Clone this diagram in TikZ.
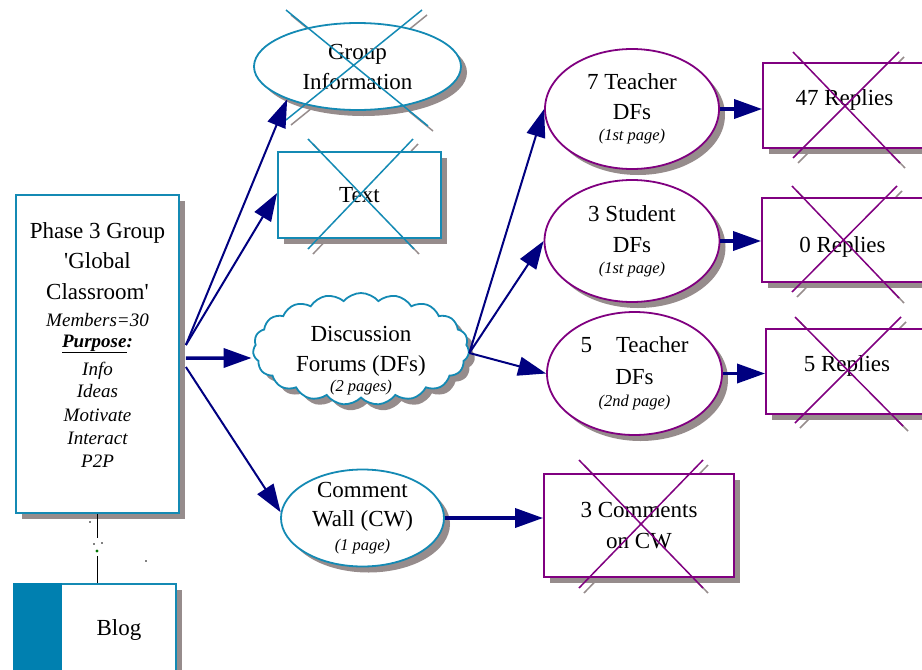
\documentclass[tikz,border=0pt]{standalone}
\usepackage{fontspec}
\setmainfont{Liberation Serif}
\usetikzlibrary{shapes.geometric,shapes.symbols,shadows,arrows.meta,calc}
\definecolor{tealline}{RGB}{20,138,180}
\definecolor{tealfill}{RGB}{0,128,176}
\definecolor{plum}{RGB}{128,0,128}
\definecolor{navyblue}{RGB}{0,0,128}
\definecolor{shadowgrey}{RGB}{150,140,140}
\pgfdeclarelayer{bg}
\pgfsetlayers{bg,main}

% small italic line under a heading
\newcommand\sublabel[1]{{\fontsize{16.5}{20}\selectfont\itshape #1}}
% a struck-out item: two crossing strokes with their grey shadows
\newcommand\crossbox[5]{%
  \begin{pgfonlayer}{bg}
    \draw[shadowgrey,line width=1.5pt]
      ([shift={(5pt,-5pt)}]#2) -- ([shift={(5pt,-5pt)}]#3)
      ([shift={(5pt,-5pt)}]#4) -- ([shift={(5pt,-5pt)}]#5);
  \end{pgfonlayer}
  \draw[#1,line width=1.5pt] (#2) -- (#3) (#4) -- (#5);
}

\begin{document}
\begin{tikzpicture}[x=1pt,y=-1pt,
  every node/.style={font=\fontsize{23}{30}\selectfont, align=center, inner sep=0pt},
  shade/.style={drop shadow={shadow xshift=6pt,shadow yshift=-6pt,fill=shadowgrey,opacity=1}},
  tealbox/.style={rectangle, draw=tealline, line width=1.8pt, fill=white, shade},
  tealell/.style={ellipse, draw=tealline, line width=1.8pt, fill=white, shade, inner ysep=-6pt},
  plumbox/.style={rectangle, draw=plum, line width=1.8pt, fill=white, shade},
  plumell/.style={ellipse, draw=plum, line width=1.8pt, fill=white, shade, inner ysep=-6pt},
  link/.style={navyblue, line width=2pt, -{Triangle[length=28pt,width=19pt]}},
  heavy/.style={link, line width=3.5pt}]
\useasboundingbox (0,0) rectangle (922,670);

% ---- group box and blog ----
\node[tealbox, minimum width=163pt, minimum height=318pt] (phase) at (97.5,354) {};
\node (phasetext) at (97.5,344.7) {Phase 3 Group\\\textquotesingle Global\\[1pt]Classroom\textquotesingle\\[-3pt]%
  {\fontsize{19}{23}\selectfont\itshape Members=30}\\[-9pt]%
  {\fontsize{19}{23}\selectfont\bfseries\itshape\underline{Purpose}:}\\[-2pt]%
  {\fontsize{19}{23}\selectfont\itshape Info}\\[-8pt]%
  {\fontsize{19}{23}\selectfont\itshape Ideas}\\[-6pt]%
  {\fontsize{19}{23}\selectfont\itshape Motivate}\\[-7pt]%
  {\fontsize{19}{23}\selectfont\itshape Interact}\\[-7pt]%
  {\fontsize{19}{23}\selectfont\itshape P2P}};

\node[rectangle, draw=tealline, line width=1.2pt, fill=white, shade,
      minimum width=162pt, minimum height=92pt] (blog) at (95,630) {};
\coordinate (stripe) at (62,0);
\fill[tealfill] (blog.north west) rectangle (blog.south west -| stripe);
\node (blogtext) at (119,630) {Blog};

% ---- first level ----
\node[tealell, minimum width=207pt, minimum height=87pt] (gi) at (357.5,66.5) {Group\\Information};
\node[tealbox, minimum width=163pt, minimum height=86pt] (txt) at (359.5,195) {Text};
\node[cloud, draw=tealline, line width=1.8pt, fill=white, shade, cloud puffs=19,
      cloud puff arc=100, cloud ignores aspect, minimum width=216pt, minimum height=112pt] (df) at (361,349) {};
\node (dftext) at (361,361) {Discussion\\Forums (DFs)\\[-10pt]\sublabel{(2 pages)}};
\node[tealell, minimum width=163pt, minimum height=97pt] (cw) at (362.5,518)
  {Comment\\[-1pt]Wall (CW)\\[-6pt]\sublabel{(1 page)}};

% ---- second level ----
\node[plumell, minimum width=174pt, minimum height=120pt] (t7) at (632,109)
  {7 Teacher\\DFs\\[-9pt]\sublabel{(1st page)}};
\node[plumell, minimum width=175pt, minimum height=122pt] (s3) at (632,241)
  {3 Student\\[1pt]DFs\\[-9pt]\sublabel{(1st page)}};
\node[plumell, minimum width=175pt, minimum height=123pt] (t5) at (634.5,373.5)
  {5\hspace{24pt}Teacher\\[2pt]DFs\\[-8pt]\sublabel{(2nd page)}};

\node[plumbox, minimum width=163pt, minimum height=85pt, text height=10pt, text depth=11pt] (r47) at (844.5,105.5) {47 Replies};
\node[plumbox, minimum width=161pt, minimum height=84pt, text height=24pt, text depth=0pt] (r0) at (842.5,240) {0 Replies};
\node[plumbox, minimum width=162pt, minimum height=85pt, text height=10pt, text depth=11pt] (r5) at (847,371.5) {5 Replies};
\node[plumbox, minimum width=190pt, minimum height=103pt] (c3) at (639,525.5) {3 Comments\\[1pt]on CW};

% ---- struck-out items ----
\crossbox{tealline}{286,10}{428,126}{422,10}{286,120}
\crossbox{tealline}{308,139}{414,249}{413,139}{308,249}
\crossbox{plum}{793,52}{900,163}{899,52}{793,158}
\crossbox{plum}{792,186}{899,298}{897,186}{792,292}
\crossbox{plum}{795,317}{903,426}{901,317}{795,423}
\crossbox{plum}{579,460}{703,588}{703,460}{579,588}

% ---- connectors ----
\draw[link] ([shift={(6pt,9pt)}]phase.east) -- (gi.205);
\draw[link] ([shift={(6pt,9pt)}]phase.east) -- ([yshift=2pt]txt.west);
\draw[heavy] ([shift={(6pt,-4pt)}]phase.east) -- ([shift={(-1pt,-9pt)}]df.west);
\draw[link] ([shift={(6pt,-13pt)}]phase.east) -- (cw.176);

\draw[link] ([yshift=-4pt]df.east) -- (t7.west);
\draw[link] ([yshift=-4pt]df.east) -- (s3.west);
\draw[link] ([yshift=-4pt]df.east) -- (t5.west);

\draw[heavy] (t7.east) -- (t7.east -| r47.west);
\draw[heavy] (s3.east) -- (s3.east -| r0.west);
\draw[heavy] (t5.east) -- (t5.east -| r5.west);
\draw[heavy] (cw.east) -- (cw.east -| c3.west);

% link from the group box down to the blog
\draw[line width=1.3pt] (phase.south) -- ++(0,24);
\draw[line width=1.3pt] (blog.north -| phase.south) -- ++(0,-27);
\fill (90,522) circle (0.9pt) (94,544) circle (0.9pt) (102,543) circle (0.9pt) (146,561) circle (0.9pt);
\fill[green!45!black] (97,551) circle (1.6pt);
\end{tikzpicture}
\end{document}
